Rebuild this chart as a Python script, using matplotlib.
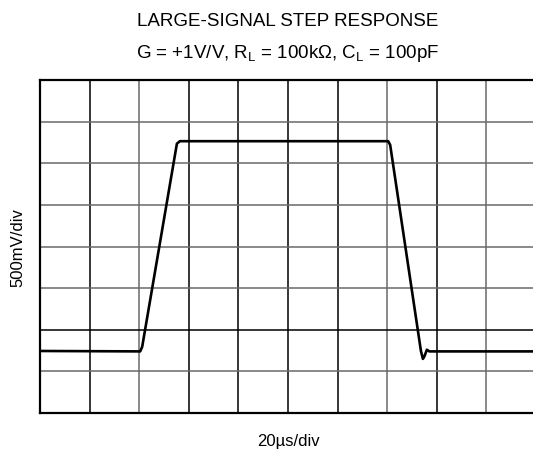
import numpy as np
import matplotlib
matplotlib.use("Agg")
import matplotlib.pyplot as plt

plt.rcParams['font.family'] = ['Liberation Sans', 'DejaVu Sans']
plt.rcParams['mathtext.fontset'] = 'custom'
plt.rcParams['mathtext.rm'] = 'Liberation Sans'
plt.rcParams['mathtext.it'] = 'Liberation Sans:italic'

# scope trace, in divisions (x: 20us/div, y: 500mV/div)
time_div = [0.0, 2.02, 2.06, 2.76, 2.82, 7.02, 7.06, 7.68, 7.72, 7.75, 7.80, 7.85, 10.0]
level_div = [1.49, 1.48, 1.59, 6.47, 6.53, 6.53, 6.44, 1.49, 1.30, 1.36, 1.52, 1.48, 1.48]

n_xdiv = 10
n_ydiv = 8

W, H = 533, 452
fig = plt.figure(figsize=(W / 100, H / 100), dpi=100)
ax = fig.add_axes([40 / W, 38 / H, 496 / W, 333 / H])

# graticule: some lines print darker than others
dark_v = [1, 3, 4, 5, 6, 8]
for i in range(1, n_xdiv):
    ax.axvline(i, color='black' if i in dark_v else '#6a6a6a', lw=1.1, zorder=1)
for j in range(1, n_ydiv):
    ax.axhline(j, color='black' if j == 2 else '#6a6a6a', lw=1.1, zorder=1)

ax.plot(time_div, level_div, color='black', lw=1.9, solid_joinstyle='round', zorder=3)

ax.set_xlim(0, n_xdiv)
ax.set_ylim(0, n_ydiv)
ax.set_xticks([])
ax.set_yticks([])
for s in ax.spines.values():
    s.set_linewidth(1.6)
    s.set_color('black')

cx = (40 + 536) / 2 / W
fig.text(cx, 1 - 445.7 / H, '20µs/div', ha='center', va='baseline', fontsize=12)
fig.text(17.5 / W, 1 - 247.5 / H, '500mV/div', ha='center', va='center',
         rotation=90, fontsize=12)

fig.text(cx, 1 - 25.7 / H, 'LARGE-SIGNAL STEP RESPONSE', ha='center', va='baseline', fontsize=13.5)
fig.text(cx, 1 - 58.3 / H, r'G = +1V/V, R$_\mathregular{L}$ = 100kΩ, C$_\mathregular{L}$ = 100pF',
         ha='center', va='baseline', fontsize=13.5)

fig.savefig('out.png', dpi=100)
